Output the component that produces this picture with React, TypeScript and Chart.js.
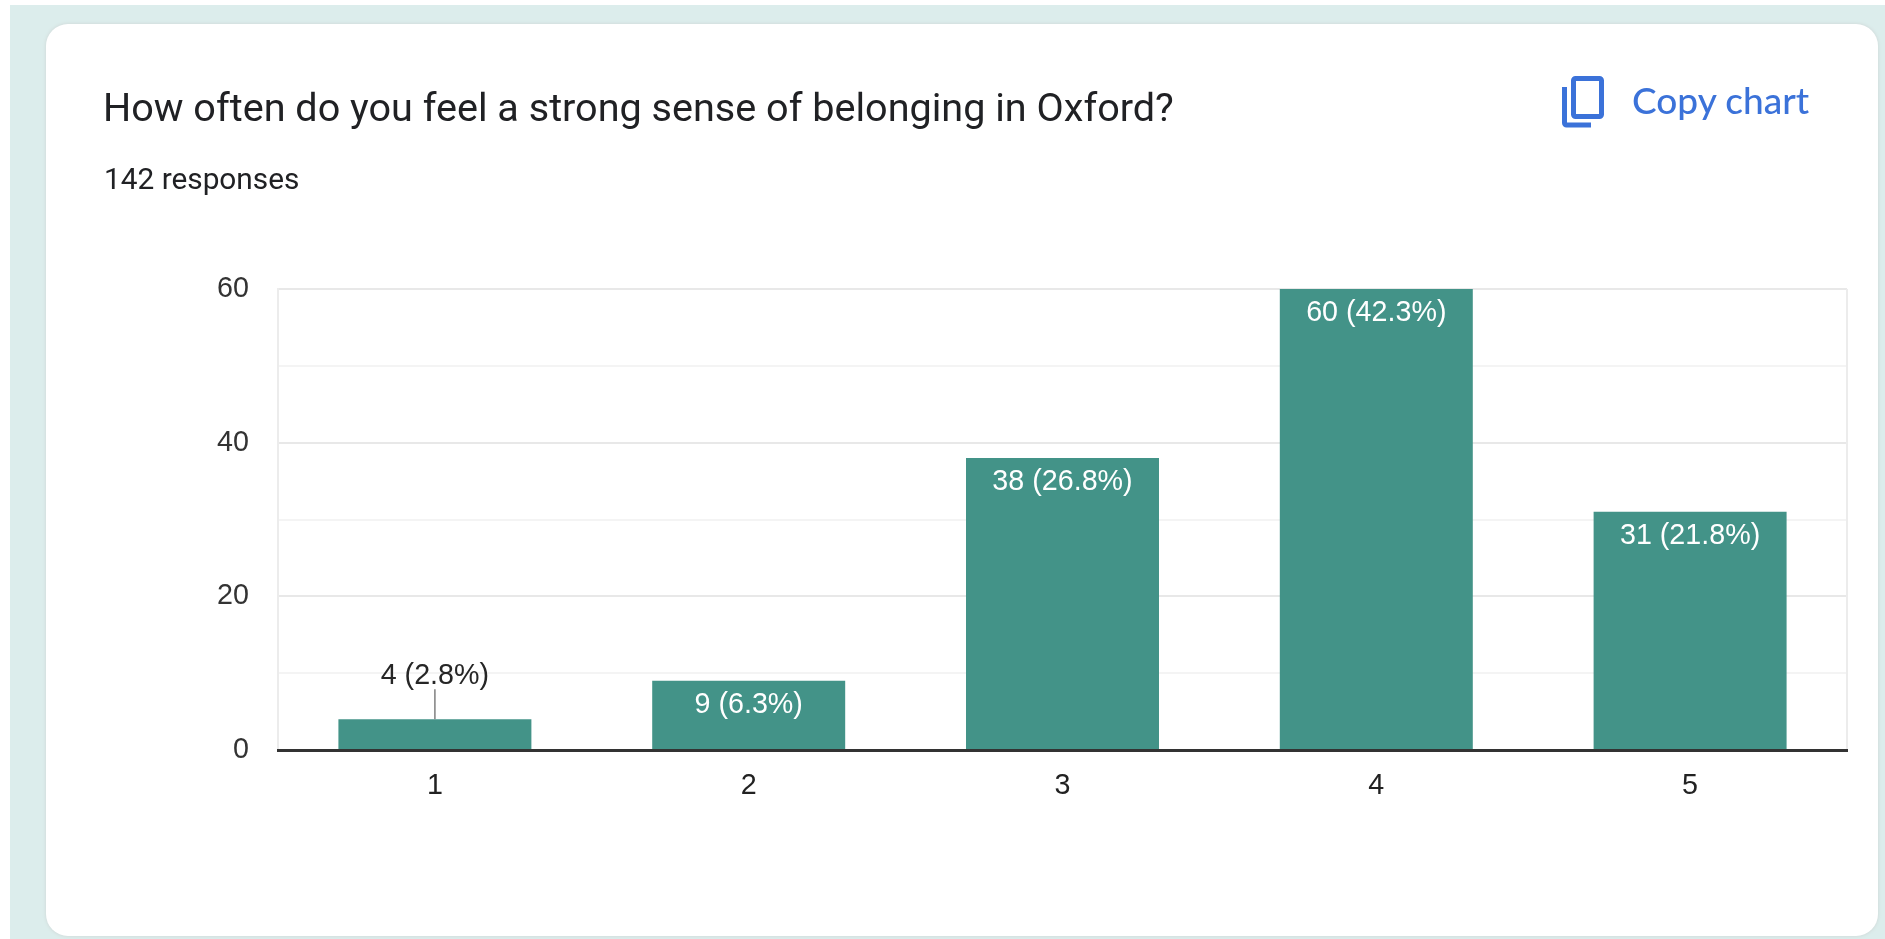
import React, { useEffect, useRef } from "react";
import { Chart, registerables } from "chart.js";

Chart.register(...registerables);

const categories = ["1", "2", "3", "4", "5"];
const counts = [4, 9, 38, 60, 31];
const percents = ["2.8%", "6.3%", "26.8%", "42.3%", "21.8%"];
const labelledTicks = [0, 20, 40, 60];

const TITLE = "How often do you feel a strong sense of belonging in Oxford?";
const SUBTITLE = "142 responses";
const COPY = "Copy chart";

const LABEL_FONT = "28.7px 'Liberation Sans', Arial, sans-serif";

const barLabels = {
  id: "barLabels",
  beforeDatasetsDraw(chart: any) {
    const { ctx, chartArea } = chart;
    ctx.save();
    ctx.strokeStyle = "#ececec";
    ctx.lineWidth = 2;
    ctx.beginPath();
    ctx.moveTo(chartArea.right, chartArea.top);
    ctx.lineTo(chartArea.right, chartArea.bottom);
    ctx.stroke();
    ctx.restore();
  },
  afterDatasetsDraw(chart: any) {
    const { ctx } = chart;
    const meta = chart.getDatasetMeta(0);
    ctx.save();
    ctx.font = LABEL_FONT;
    ctx.textAlign = "center";
    ctx.textBaseline = "middle";
    meta.data.forEach((bar: any, i: number) => {
      const text = `${counts[i]} (${percents[i]})`;
      if (counts[i] < 5) {
        ctx.strokeStyle = "#7f7f7f";
        ctx.lineWidth = 1.5;
        ctx.beginPath();
        ctx.moveTo(bar.x, bar.y - 30);
        ctx.lineTo(bar.x, bar.y);
        ctx.stroke();
        ctx.fillStyle = "#262626";
        ctx.fillText(text, bar.x, bar.y - 43);
      } else {
        ctx.fillStyle = "#ffffff";
        ctx.fillText(text, bar.x, bar.y + 24);
      }
    });
    ctx.restore();
  },
};

export default function App() {
  const ref = useRef<HTMLCanvasElement | null>(null);

  useEffect(() => {
    if (!ref.current) return;
    const chart = new Chart(ref.current, {
      type: "bar",
      data: {
        labels: categories,
        datasets: [
          {
            data: counts,
            backgroundColor: "#439388",
            barPercentage: 0.615,
            categoryPercentage: 1,
          },
        ],
      },
      options: {
        animation: false,
        responsive: false,
        devicePixelRatio: 1,
        layout: { padding: { top: 289, right: 38, left: 0, bottom: 0 } },
        plugins: { legend: { display: false }, tooltip: { enabled: false }, title: { display: false } },
        scales: {
          x: {
            grid: { display: false },
            border: { color: "#333333", width: 3, z: 2 },
            ticks: {
              color: "#222222",
              font: { family: "'Liberation Sans', Arial, sans-serif", size: 28.7 },
              padding: 11,
              maxRotation: 0,
            },
            afterFit(s: any) {
              s.height = 189;
            },
          },
          y: {
            min: 0,
            max: 60,
            border: { color: "#ececec", width: 2 },
            grid: {
              drawTicks: false,
              color: (c: any) => (c.tick.value % 20 === 0 ? "#e8e8e8" : "#f4f4f4"),
              lineWidth: 2,
            },
            ticks: {
              stepSize: 10,
              autoSkip: false,
              color: "#333333",
              padding: 29,
              font: { family: "'Liberation Sans', Arial, sans-serif", size: 28.7 },
              callback: (v: any) => (labelledTicks.includes(Number(v)) ? String(v) : ""),
            },
            afterFit(s: any) {
              s.width = 278;
            },
          },
        },
      },
      plugins: [barLabels],
    } as any);
    return () => chart.destroy();
  }, []);

  return (
    <div style={{ position: "fixed", left: 0, top: 0, width: 1885, height: 939, background: "#ffffff", overflow: "hidden" }}>
      <div style={{ position: "absolute", left: 10, top: 5, width: 1875, height: 934, background: "#dcedec" }} />
      <div
        style={{
          position: "absolute",
          left: 46,
          top: 24,
          width: 1832,
          height: 912,
          background: "#ffffff",
          borderRadius: 22,
          boxShadow: "0 0 3px 1px #d3dedd",
        }}
      />
      <canvas ref={ref} width={1885} height={939} style={{ position: "absolute", left: 0, top: 0, display: "block" }} />
      <div
        style={{
          position: "absolute",
          left: 103,
          top: 86,
          font: "400 39.6px Roboto, sans-serif",
          color: "#202124",
          whiteSpace: "nowrap",
          lineHeight: "44px",
        }}
      >
        {TITLE}
      </div>
      <div
        style={{
          position: "absolute",
          left: 104,
          top: 161,
          font: "400 29.8px Roboto, sans-serif",
          color: "#202124",
          whiteSpace: "nowrap",
          lineHeight: "36px",
        }}
      >
        {SUBTITLE}
      </div>
      <svg style={{ position: "absolute", left: 1554, top: 70 }} width={56} height={64} viewBox="0 0 56 64" fill="none" stroke="#3b72d9" strokeWidth={5}>
        <rect x={19.5} y={8.5} width={28} height={38} rx={2} />
        <path d="M10.5 17 V53 a2 2 0 0 0 2 2 H37" />
      </svg>
      <div
        style={{
          position: "absolute",
          left: 1632,
          top: 78,
          font: "500 37px Lato, sans-serif",
          color: "#3b72d9",
          whiteSpace: "nowrap",
          lineHeight: "44px",
        }}
      >
        {COPY}
      </div>
    </div>
  );
}
